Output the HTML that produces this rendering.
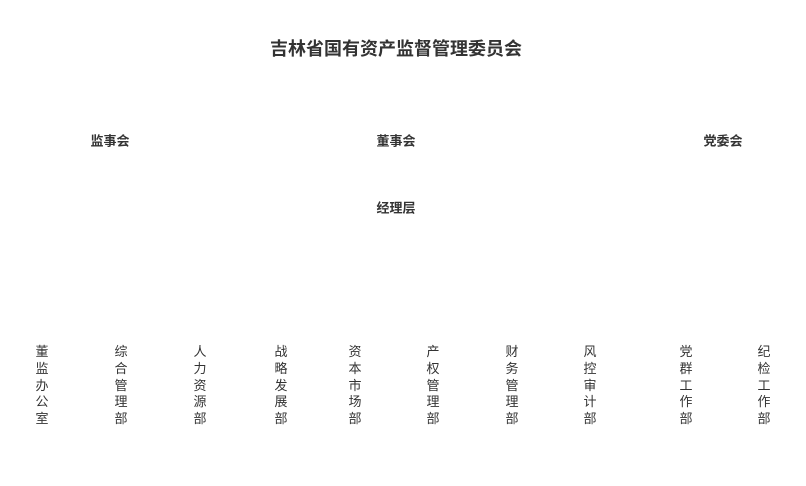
<!DOCTYPE html>
<html><head><meta charset="utf-8"><style>
body{margin:0;width:806px;height:486px;background:#fff;position:relative;font-family:"Liberation Sans","Noto Sans CJK SC",sans-serif;color:#333;overflow:hidden}
.t{position:absolute;transform:translate(-50%,-50%);white-space:nowrap}
.h{font-size:18px;font-weight:bold}
.m{font-size:13px;font-weight:bold}
.v{position:absolute;width:20px;margin-left:-10px;top:344px;font-size:13px;line-height:16.8px;text-align:center}
</style></head><body>
<div class="t h" style="left:396px;top:48px">吉林省国有资产监督管理委员会</div>
<div class="t m" style="left:110px;top:140px">监事会</div>
<div class="t m" style="left:396px;top:140px">董事会</div>
<div class="t m" style="left:723px;top:140px">党委会</div>
<div class="t m" style="left:396px;top:207px">经理层</div>
<div class="v" style="left:42px">董<br>监<br>办<br>公<br>室</div>
<div class="v" style="left:121px">综<br>合<br>管<br>理<br>部</div>
<div class="v" style="left:200px">人<br>力<br>资<br>源<br>部</div>
<div class="v" style="left:281px">战<br>略<br>发<br>展<br>部</div>
<div class="v" style="left:355px">资<br>本<br>市<br>场<br>部</div>
<div class="v" style="left:433px">产<br>权<br>管<br>理<br>部</div>
<div class="v" style="left:512px">财<br>务<br>管<br>理<br>部</div>
<div class="v" style="left:590px">风<br>控<br>审<br>计<br>部</div>
<div class="v" style="left:686px">党<br>群<br>工<br>作<br>部</div>
<div class="v" style="left:764px">纪<br>检<br>工<br>作<br>部</div>
</body></html>
